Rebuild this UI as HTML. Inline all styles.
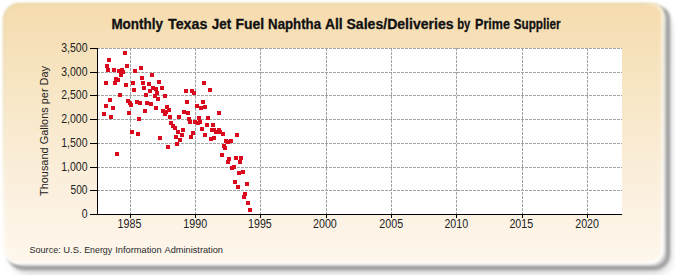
<!DOCTYPE html>
<html><head><meta charset="utf-8"><style>
html,body{margin:0;padding:0;background:#fff;width:675px;height:275px;overflow:hidden}
svg{display:block}
</style></head><body>
<svg width="675" height="275" viewBox="0 0 675 275">
<defs>
<linearGradient id="pg" x1="0" y1="0" x2="0" y2="1"><stop offset="0" stop-color="#f5dcae"/><stop offset="0.5" stop-color="#f9ead0"/><stop offset="0.76" stop-color="#fcf1e1"/><stop offset="1" stop-color="#fef7ec"/></linearGradient>
<filter id="sh" x="-10%" y="-10%" width="120%" height="130%"><feGaussianBlur stdDeviation="1.8"/></filter>
<filter id="sh2" x="-10%" y="-10%" width="120%" height="130%"><feGaussianBlur stdDeviation="4"/></filter>
<filter id="pb" x="-5%" y="-5%" width="110%" height="110%"><feGaussianBlur stdDeviation="1.1"/></filter>
<linearGradient id="bg" x1="0" y1="0" x2="0" y2="1"><stop offset="0" stop-color="#e2d3a3"/><stop offset="0.5" stop-color="#f0e4c8"/><stop offset="1" stop-color="#fffcf6"/></linearGradient>
<linearGradient id="hl" x1="0" y1="0" x2="0" y2="1"><stop offset="0" stop-color="#fff" stop-opacity="0"/><stop offset="0.6" stop-color="#fff" stop-opacity="0.15"/><stop offset="0.92" stop-color="#fff" stop-opacity="0.5"/><stop offset="1" stop-color="#fff" stop-opacity="0.9"/></linearGradient>
<linearGradient id="hr" x1="0" y1="0" x2="1" y2="0"><stop offset="0" stop-color="#fff" stop-opacity="0"/><stop offset="0.97" stop-color="#fff" stop-opacity="0"/><stop offset="1" stop-color="#fff" stop-opacity="0.55"/></linearGradient>
</defs>
<rect x="12" y="12" width="659" height="262" rx="17" ry="17" fill="#d4d4d4" filter="url(#sh2)"/>
<path d="M25 8H657A11 11 0 0 1 668 19V254A14 14 0 0 1 654 268H24A15 15 0 0 1 9 253V24A16 16 0 0 1 25 8Z" fill="none" stroke="#9a9a9a" stroke-width="4" filter="url(#sh)"/>
<g filter="url(#pb)"><path d="M19.5 3.5H652.5A11 11 0 0 1 663.5 14.5V249.5A14 14 0 0 1 649.5 263.5H18.5A15 15 0 0 1 3.5 248.5V19.5A16 16 0 0 1 19.5 3.5Z" fill="url(#pg)" stroke="url(#bg)" stroke-width="1.5"/><path d="M19.5 4.5H652.5A10 10 0 0 1 662.5 14.5V250A13 13 0 0 1 649.5 263H18.5A14 14 0 0 1 4.5 249V19.5A15 15 0 0 1 19.5 4.5Z" fill="none" stroke="url(#hl)" stroke-width="2.5"/><path d="M19.5 4.5H652.5A10 10 0 0 1 662.5 14.5V250A13 13 0 0 1 649.5 263H18.5A14 14 0 0 1 4.5 249V19.5A15 15 0 0 1 19.5 4.5Z" fill="none" stroke="url(#hr)" stroke-width="3"/></g>
<rect x="98" y="48" width="524" height="166" fill="#ffffff"/>
<path d="M97 48.5H622 M97 72.5H622 M97 95.5H622 M97 119.5H622 M97 143.5H622 M97 167.5H622 M97 190.5H622 M130.5 48V214 M195.5 48V214 M260.5 48V214 M326.5 48V214 M391.5 48V214 M456.5 48V214 M522.5 48V214 M587.5 48V214" stroke="#a2a2a2" stroke-width="1" stroke-dasharray="3 1" fill="none"/>
<path d="M97.5 48V215 M90 214.5H622 M90 48.5H97 M90 72.5H97 M90 95.5H97 M90 119.5H97 M90 143.5H97 M90 167.5H97 M90 190.5H97 M90 214.5H97 M130.5 215V218 M195.5 215V218 M260.5 215V218 M326.5 215V218 M391.5 215V218 M456.5 215V218 M522.5 215V218 M587.5 215V218" stroke="#000" stroke-width="1" fill="none"/>
<path d="M123 51h4v4h-4zM107 58h4v4h-4zM105 64h4v4h-4zM106 68h4v4h-4zM112 68h4v4h-4zM117 69h4v4h-4zM120 68h4v4h-4zM121 70h4v4h-4zM119 73h4v4h-4zM125 64h4v4h-4zM133 69h4v4h-4zM139 66h4v4h-4zM150 73h4v4h-4zM114 77h4v4h-4zM116 78h4v4h-4zM104 81h4v4h-4zM113 81h4v4h-4zM124 83h4v4h-4zM131 81h4v4h-4zM154 87h4v4h-4zM164 110h4v4h-4zM226 140h4v4h-4zM140 76h4v4h-4zM141 81h4v4h-4zM147 82h4v4h-4zM157 80h4v4h-4zM202 81h4v4h-4zM132 88h4v4h-4zM142 86h4v4h-4zM151 86h4v4h-4zM160 86h4v4h-4zM148 89h4v4h-4zM155 91h4v4h-4zM144 93h4v4h-4zM118 93h4v4h-4zM153 94h4v4h-4zM156 97h4v4h-4zM163 94h4v4h-4zM184 89h4v4h-4zM190 89h4v4h-4zM192 91h4v4h-4zM108 98h4v4h-4zM126 99h4v4h-4zM128 101h4v4h-4zM129 103h4v4h-4zM135 100h4v4h-4zM138 101h4v4h-4zM145 101h4v4h-4zM149 102h4v4h-4zM154 106h4v4h-4zM104 104h4v4h-4zM111 106h4v4h-4zM185 100h4v4h-4zM201 100h4v4h-4zM195 104h4v4h-4zM199 106h4v4h-4zM165 105h4v4h-4zM167 108h4v4h-4zM161 109h4v4h-4zM163 112h4v4h-4zM143 109h4v4h-4zM127 111h4v4h-4zM102 112h4v4h-4zM109 115h4v4h-4zM137 117h4v4h-4zM168 115h4v4h-4zM177 115h4v4h-4zM182 110h4v4h-4zM186 111h4v4h-4zM187 117h4v4h-4zM188 120h4v4h-4zM193 120h4v4h-4zM197 116h4v4h-4zM196 121h4v4h-4zM198 120h4v4h-4zM169 121h4v4h-4zM171 124h4v4h-4zM173 126h4v4h-4zM181 128h4v4h-4zM208 88h4v4h-4zM203 105h4v4h-4zM217 111h4v4h-4zM206 116h4v4h-4zM205 123h4v4h-4zM211 123h4v4h-4zM130 130h4v4h-4zM136 132h4v4h-4zM158 136h4v4h-4zM176 130h4v4h-4zM174 135h4v4h-4zM180 133h4v4h-4zM178 138h4v4h-4zM175 142h4v4h-4zM166 145h4v4h-4zM191 131h4v4h-4zM189 135h4v4h-4zM200 127h4v4h-4zM203 133h4v4h-4zM115 152h4v4h-4zM210 128h4v4h-4zM214 130h4v4h-4zM217 128h4v4h-4zM221 132h4v4h-4zM209 137h4v4h-4zM212 136h4v4h-4zM235 133h4v4h-4zM212 128h4v4h-4zM218 130h4v4h-4zM224 139h4v4h-4zM229 139h4v4h-4zM222 144h4v4h-4zM223 146h4v4h-4zM220 153h4v4h-4zM227 157h4v4h-4zM226 160h4v4h-4zM234 156h4v4h-4zM239 156h4v4h-4zM238 160h4v4h-4zM232 165h4v4h-4zM230 166h4v4h-4zM237 171h4v4h-4zM241 170h4v4h-4zM233 180h4v4h-4zM236 185h4v4h-4zM245 182h4v4h-4zM243 192h4v4h-4zM242 195h4v4h-4zM246 201h4v4h-4zM248 208h4v4h-4z" fill="#da0a1e"/>
<text x="111.4" y="29" font-family="'Liberation Sans', sans-serif" font-size="14" font-weight="bold" fill="#111" stroke="#111" stroke-width="0.3" textLength="51.47" lengthAdjust="spacingAndGlyphs">Monthly</text>
<text x="168.04" y="29" font-family="'Liberation Sans', sans-serif" font-size="14" font-weight="bold" fill="#111" stroke="#111" stroke-width="0.3" textLength="39.32" lengthAdjust="spacingAndGlyphs">Texas</text>
<text x="211.8" y="29" font-family="'Liberation Sans', sans-serif" font-size="14" font-weight="bold" fill="#111" stroke="#111" stroke-width="0.3" textLength="19.37" lengthAdjust="spacingAndGlyphs">Jet</text>
<text x="235.47" y="29" font-family="'Liberation Sans', sans-serif" font-size="14" font-weight="bold" fill="#111" stroke="#111" stroke-width="0.3" textLength="28.72" lengthAdjust="spacingAndGlyphs">Fuel</text>
<text x="268.12" y="29" font-family="'Liberation Sans', sans-serif" font-size="14" font-weight="bold" fill="#111" stroke="#111" stroke-width="0.3" textLength="52.9" lengthAdjust="spacingAndGlyphs">Naphtha</text>
<text x="324.95" y="29" font-family="'Liberation Sans', sans-serif" font-size="14" font-weight="bold" fill="#111" stroke="#111" stroke-width="0.3" textLength="17.73" lengthAdjust="spacingAndGlyphs">All</text>
<text x="346.49" y="29" font-family="'Liberation Sans', sans-serif" font-size="14" font-weight="bold" fill="#111" stroke="#111" stroke-width="0.3" textLength="107.08" lengthAdjust="spacingAndGlyphs">Sales/Deliveries</text>
<text x="457.26" y="29" font-family="'Liberation Sans', sans-serif" font-size="14" font-weight="bold" fill="#111" stroke="#111" stroke-width="0.3" textLength="13.1" lengthAdjust="spacingAndGlyphs">by</text>
<text x="475.06" y="29" font-family="'Liberation Sans', sans-serif" font-size="14" font-weight="bold" fill="#111" stroke="#111" stroke-width="0.3" textLength="34.87" lengthAdjust="spacingAndGlyphs">Prime</text>
<text x="513.76" y="29" font-family="'Liberation Sans', sans-serif" font-size="14" font-weight="bold" fill="#111" stroke="#111" stroke-width="0.3" textLength="46.81" lengthAdjust="spacingAndGlyphs">Supplier</text>
<text x="29.39" y="253" font-family="'Liberation Sans', sans-serif" font-size="9.6" fill="#2a2a2a" textLength="31.45" lengthAdjust="spacingAndGlyphs">Source:</text>
<text x="63.27" y="253" font-family="'Liberation Sans', sans-serif" font-size="9.6" fill="#2a2a2a" textLength="18.39" lengthAdjust="spacingAndGlyphs">U.S.</text>
<text x="84.17" y="253" font-family="'Liberation Sans', sans-serif" font-size="9.6" fill="#2a2a2a" textLength="28.04" lengthAdjust="spacingAndGlyphs">Energy</text>
<text x="115.24" y="253" font-family="'Liberation Sans', sans-serif" font-size="9.6" fill="#2a2a2a" textLength="46.36" lengthAdjust="spacingAndGlyphs">Information</text>
<text x="164.48" y="253" font-family="'Liberation Sans', sans-serif" font-size="9.6" fill="#2a2a2a" textLength="58.52" lengthAdjust="spacingAndGlyphs">Administration</text>
<text x="87.5" y="52.0" font-family="'Liberation Sans', sans-serif" font-size="12.5" fill="#222" text-anchor="end" textLength="26.2" lengthAdjust="spacingAndGlyphs">3,500</text>
<text x="87.5" y="76.0" font-family="'Liberation Sans', sans-serif" font-size="12.5" fill="#222" text-anchor="end" textLength="26.2" lengthAdjust="spacingAndGlyphs">3,000</text>
<text x="87.5" y="99.0" font-family="'Liberation Sans', sans-serif" font-size="12.5" fill="#222" text-anchor="end" textLength="26.2" lengthAdjust="spacingAndGlyphs">2,500</text>
<text x="87.5" y="123.0" font-family="'Liberation Sans', sans-serif" font-size="12.5" fill="#222" text-anchor="end" textLength="26.2" lengthAdjust="spacingAndGlyphs">2,000</text>
<text x="87.5" y="147.0" font-family="'Liberation Sans', sans-serif" font-size="12.5" fill="#222" text-anchor="end" textLength="26.2" lengthAdjust="spacingAndGlyphs">1,500</text>
<text x="87.5" y="171.0" font-family="'Liberation Sans', sans-serif" font-size="12.5" fill="#222" text-anchor="end" textLength="26.2" lengthAdjust="spacingAndGlyphs">1,000</text>
<text x="87.5" y="194.0" font-family="'Liberation Sans', sans-serif" font-size="12.5" fill="#222" text-anchor="end" textLength="17" lengthAdjust="spacingAndGlyphs">500</text>
<text x="87.5" y="218.0" font-family="'Liberation Sans', sans-serif" font-size="12.5" fill="#222" text-anchor="end" textLength="5.8" lengthAdjust="spacingAndGlyphs">0</text>
<text x="129.5" y="228" font-family="'Liberation Sans', sans-serif" font-size="12.5" fill="#222" text-anchor="middle" textLength="23.8" lengthAdjust="spacingAndGlyphs">1985</text>
<text x="195.2" y="228" font-family="'Liberation Sans', sans-serif" font-size="12.5" fill="#222" text-anchor="middle" textLength="23.8" lengthAdjust="spacingAndGlyphs">1990</text>
<text x="259.9" y="228" font-family="'Liberation Sans', sans-serif" font-size="12.5" fill="#222" text-anchor="middle" textLength="23.8" lengthAdjust="spacingAndGlyphs">1995</text>
<text x="324.9" y="228" font-family="'Liberation Sans', sans-serif" font-size="12.5" fill="#222" text-anchor="middle" textLength="23.8" lengthAdjust="spacingAndGlyphs">2000</text>
<text x="391.2" y="228" font-family="'Liberation Sans', sans-serif" font-size="12.5" fill="#222" text-anchor="middle" textLength="23.8" lengthAdjust="spacingAndGlyphs">2005</text>
<text x="456.3" y="228" font-family="'Liberation Sans', sans-serif" font-size="12.5" fill="#222" text-anchor="middle" textLength="23.8" lengthAdjust="spacingAndGlyphs">2010</text>
<text x="521.3" y="228" font-family="'Liberation Sans', sans-serif" font-size="12.5" fill="#222" text-anchor="middle" textLength="23.8" lengthAdjust="spacingAndGlyphs">2015</text>
<text x="587.1" y="228" font-family="'Liberation Sans', sans-serif" font-size="12.5" fill="#222" text-anchor="middle" textLength="23.8" lengthAdjust="spacingAndGlyphs">2020</text>
<text transform="translate(47.5,131) rotate(-90)" x="0" y="0" font-family="'Liberation Sans', sans-serif" font-size="11" fill="#222" text-anchor="middle" textLength="130" lengthAdjust="spacingAndGlyphs">Thousand Gallons per Day</text>
</svg>
</body></html>
